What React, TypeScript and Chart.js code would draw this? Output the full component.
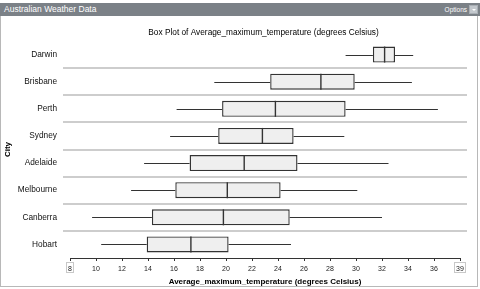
import React, { useEffect, useRef } from "react";
import { Chart, registerables } from "chart.js";

Chart.register(...registerables);

const cities = ["Darwin", "Brisbane", "Perth", "Sydney", "Adelaide", "Melbourne", "Canberra", "Hobart"];
const mins = [29.2, 19.1, 16.2, 15.7, 13.7, 12.7, 9.7, 10.4];
const q1s = [31.3, 23.4, 19.7, 19.4, 17.2, 16.1, 14.3, 13.9];
const medians = [32.2, 27.3, 23.8, 22.8, 21.4, 20.1, 19.8, 17.3];
const q3s = [33.0, 29.9, 29.2, 25.2, 25.5, 24.2, 24.9, 20.2];
const maxs = [34.4, 34.3, 36.3, 29.1, 32.5, 30.1, 32.0, 25.0];
const xMin = 8;
const xMax = 38;
const xEndLabels: Record<number, string> = { 8: "8", 38: "39" };

const chartTitle = "Box Plot of Average_maximum_temperature (degrees Celsius)";
const xTitle = "Average_maximum_temperature (degrees Celsius)";
const yTitle = "City";

const FONT = "'Liberation Sans', Arial, sans-serif";

const boxPlugin = {
  id: "boxExtras",
  beforeDatasetsDraw(chart: any) {
    const { ctx, chartArea, scales } = chart;
    const y = scales.y;
    const x = scales.x;
    ctx.save();
    ctx.strokeStyle = "#cdcdcd";
    ctx.lineWidth = 2;
    for (let i = 1; i < cities.length; i++) {
      const py = Math.round((y.getPixelForValue(i - 1) + y.getPixelForValue(i)) / 2);
      ctx.beginPath();
      ctx.moveTo(chartArea.left - 7, py);
      ctx.lineTo(chartArea.right + 7, py);
      ctx.stroke();
    }
    ctx.strokeStyle = "#333";
    ctx.lineWidth = 1;
    for (let i = 0; i < cities.length; i++) {
      const py = Math.round(y.getPixelForValue(i)) + 0.5;
      ctx.beginPath();
      ctx.moveTo(x.getPixelForValue(mins[i]), py);
      ctx.lineTo(x.getPixelForValue(q1s[i]), py);
      ctx.moveTo(x.getPixelForValue(q3s[i]), py);
      ctx.lineTo(x.getPixelForValue(maxs[i]), py);
      ctx.stroke();
    }
    ctx.restore();
  },
  afterDatasetsDraw(chart: any) {
    const { ctx, scales } = chart;
    const x = scales.x;
    const meta = chart.getDatasetMeta(0);
    ctx.save();
    ctx.strokeStyle = "#333";
    ctx.lineWidth = 1.4;
    for (let i = 0; i < cities.length; i++) {
      const el = meta.data[i];
      const h = el.height / 2;
      const px = x.getPixelForValue(medians[i]);
      ctx.beginPath();
      ctx.moveTo(px, el.y - h);
      ctx.lineTo(px, el.y + h);
      ctx.stroke();
    }
    ctx.restore();
  },
  afterDraw(chart: any) {
    const { ctx, scales } = chart;
    const x = scales.x;
    ctx.save();
    ctx.fillStyle = "#000";
    ctx.font = `8.3px ${FONT}`;
    ctx.textAlign = "center";
    ctx.textBaseline = "middle";
    ctx.fillText(chartTitle, 263.5, 33);
    ctx.font = `7px ${FONT}`;
    ctx.strokeStyle = "#c8c8c8";
    ctx.lineWidth = 1;
    [xMin, xMax].forEach((v) => {
      const txt = xEndLabels[v];
      const w = ctx.measureText(txt).width;
      const px = x.getPixelForValue(v);
      ctx.strokeRect(Math.round(px - w / 2 - 2) + 0.5, 262.5, Math.round(w + 3), 10);
    });
    ctx.restore();
  },
};

export default function App() {
  const ref = useRef<HTMLCanvasElement>(null);
  useEffect(() => {
    document.body.style.margin = "0";
    const chart = new Chart(ref.current!, {
      type: "bar",
      data: {
        labels: cities,
        datasets: [
          {
            data: cities.map((_, i) => [q1s[i], q3s[i]]) as any,
            backgroundColor: "#efefef",
            borderColor: "#333",
            borderWidth: 1.4,
            borderSkipped: false,
            categoryPercentage: 1,
            barPercentage: 0.59,
          },
        ],
      },
      options: {
        indexAxis: "y",
        animation: false,
        responsive: false,
        maintainAspectRatio: false,
        layout: { padding: { left: 0, right: 20, top: 41, bottom: 0 } },
        plugins: { legend: { display: false }, tooltip: { enabled: false }, title: { display: false } },
        scales: {
          x: {
            type: "linear",
            min: xMin,
            max: xMax,
            afterFit: (s: any) => {
              s.height = 31;
            },
            border: { display: true, color: "#333", width: 1 },
            grid: { drawOnChartArea: false, drawTicks: true, tickLength: 3, color: "#333" },
            ticks: {
              stepSize: 2,
              padding: 4,
              color: "#222",
              font: { family: FONT, size: 7 },
              maxRotation: 0,
              autoSkip: false,
              callback: (v: any) => (xEndLabels[v] !== undefined ? xEndLabels[v] : String(v)),
            },
            title: {
              display: true,
              text: xTitle,
              color: "#000",
              font: { family: FONT, size: 8, weight: "bold" },
              padding: { top: 0, bottom: 2 },
            },
          },
          y: {
            type: "category",
            afterFit: (s: any) => {
              s.width = 70;
            },
            border: { display: false },
            grid: { display: false, drawTicks: false },
            ticks: { color: "#111", padding: 13, font: { family: FONT, size: 8.3 } },
            title: {
              display: true,
              text: yTitle,
              color: "#000",
              font: { family: FONT, size: 8, weight: "bold" },
              padding: { top: 3, bottom: 0 },
            },
          },
        },
      },
      plugins: [boxPlugin],
    });
    return () => chart.destroy();
  }, []);

  return (
    <div style={{ position: "relative", width: 480, height: 289, overflow: "hidden", background: "#fff" }}>
      <canvas ref={ref} width={480} height={289} style={{ position: "absolute", left: 0, top: 0, width: 480, height: 289 }} />
      <div
        style={{
          position: "absolute",
          left: 0,
          top: 16,
          width: 476,
          height: 270,
          borderLeft: "1px solid #b8b8b8",
          borderRight: "1px solid #b8b8b8",
          borderBottom: "1px solid #b8b8b8",
          pointerEvents: "none",
        }}
      />
      <div
        style={{
          position: "absolute",
          left: 0,
          top: 3,
          width: 480,
          height: 13,
          background: "#7b8187",
          color: "#fff",
          fontFamily: FONT,
          fontSize: 8.5,
          lineHeight: "13px",
        }}
      >
        <span style={{ position: "absolute", left: 4, top: 0 }}>Australian Weather Data</span>
        <span style={{ position: "absolute", right: 13, top: 0, fontSize: 6.5 }}>Options</span>
        <span
          style={{
            position: "absolute",
            right: 2,
            top: 2,
            width: 9,
            height: 9,
            background: "#c3c8cd",
            border: "1px solid #a9afb5",
            boxSizing: "border-box",
          }}
        >
          <span
            style={{
              position: "absolute",
              left: 2,
              top: 3,
              width: 0,
              height: 0,
              borderLeft: "2px solid transparent",
              borderRight: "2px solid transparent",
              borderTop: "2px solid #fff",
            }}
          />
        </span>
      </div>
    </div>
  );
}
